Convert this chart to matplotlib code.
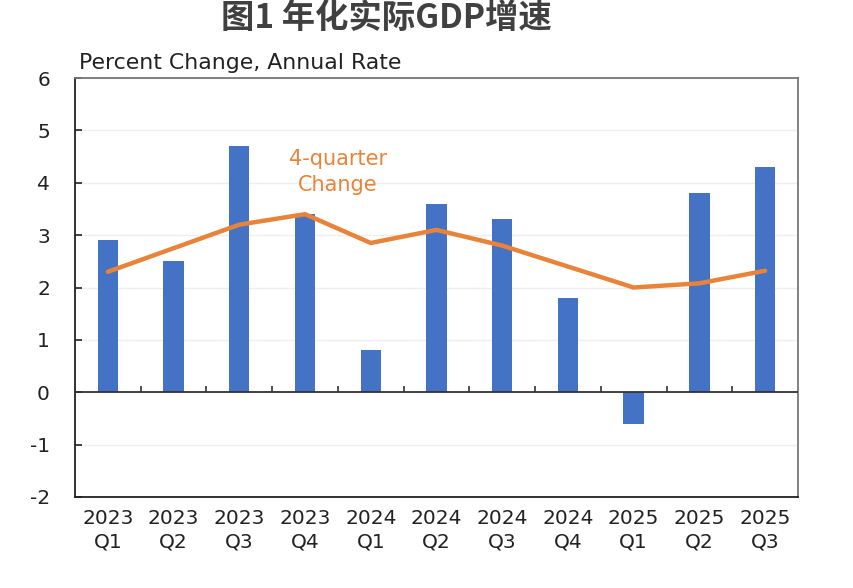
import matplotlib.pyplot as plt
import numpy as np

# data
quarters = ['2023\nQ1', '2023\nQ2', '2023\nQ3', '2023\nQ4',
            '2024\nQ1', '2024\nQ2', '2024\nQ3', '2024\nQ4',
            '2025\nQ1', '2025\nQ2', '2025\nQ3']
annual_rate = [2.9, 2.5, 4.7, 3.4, 0.8, 3.6, 3.3, 1.8, -0.6, 3.8, 4.3]
four_quarter = [2.3, 2.75, 3.2, 3.4, 2.85, 3.1, 2.8, 2.4, 2.0, 2.08, 2.32]

plt.rcParams['font.family'] = ['DejaVu Sans']
plt.rcParams['axes.unicode_minus'] = False

fig = plt.figure(figsize=(8.54, 5.88), dpi=100)
ax = fig.add_axes([0.0878, 0.1548, 0.8466, 0.7125])

x = np.arange(len(quarters))
ax.bar(x, annual_rate, width=0.31, color='#4472C4', zorder=2)
ax.plot(x, four_quarter, color='#E8833A', lw=3.2, solid_joinstyle='round',
        solid_capstyle='round', zorder=3)

ax.set_xlim(-0.5, len(quarters) - 0.5)
ax.set_ylim(-2, 6)
ax.set_yticks(range(-2, 7))
ax.set_xticks(x)
ax.set_xticklabels(quarters, linespacing=1.25)
ax.tick_params(axis='x', length=0, pad=9, labelsize=14.5, colors='#222222')
ax.tick_params(axis='y', direction='in', length=5, width=1.2, pad=18,
               labelsize=14.5, colors='#222222')
ax.yaxis.grid(True, color='#eeeeee', lw=1, zorder=0)
ax.set_axisbelow(True)

for s in ['left', 'bottom']:
    ax.spines[s].set_color('#222222')
    ax.spines[s].set_linewidth(1.3)
for s in ['top', 'right']:
    ax.spines[s].set_color('#777777')
    ax.spines[s].set_linewidth(1.3)

# zero line with category boundary ticks
ax.axhline(0, color='#333333', lw=1.3, zorder=4)
ax.vlines(x[:-1] + 0.5, 0, 0.12, color='#333333', lw=1.2, zorder=4)

ax.text(0.006, 1.013, 'Percent Change, Annual Rate', transform=ax.transAxes,
        fontsize=15.8, color='#222222', ha='left', va='bottom')
ax.text(3.5, 4.2, '4-quarter\nChange', color='#E8833A', fontsize=15,
        ha='center', va='center', linespacing=1.4)

fig.text(0.453, 0.968, '图1 年化实际GDP增速', ha='center', va='center',
         fontsize=24, fontweight='bold', color='#404040',
         family=['Noto Sans CJK SC', 'DejaVu Sans'])

fig.savefig('out.png', dpi=100)
